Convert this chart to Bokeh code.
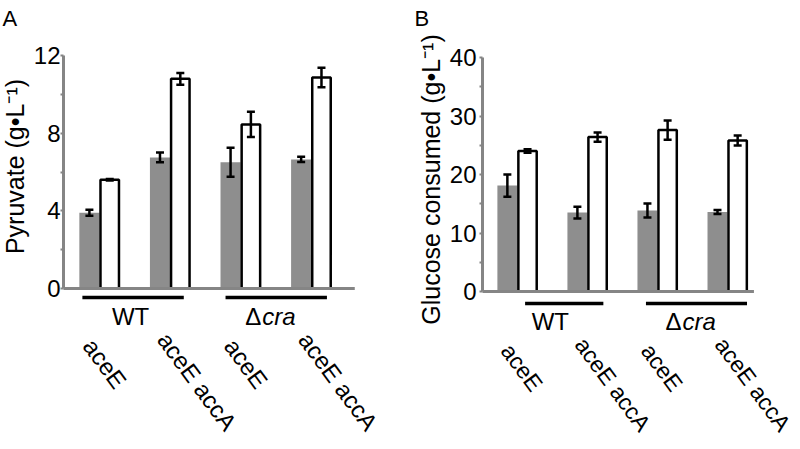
from bokeh.plotting import figure
from bokeh.models import ColumnDataSource, Range1d, FixedTicker, Whisker, TeeHead
from bokeh.layouts import row
from bokeh.transform import dodge
from bokeh.core.properties import value
from bokeh.embed import file_html
from bokeh.resources import INLINE

# ---------------- data ----------------
strains = ["aceE", "aceE accA", "aceE", "aceE accA"]
backgrounds = ["WT", "cra"]          # second one is shown as Δ + italic "cra"

pyr_gray = [3.9, 6.75, 6.5, 6.65]
pyr_gray_err = [0.15, 0.25, 0.75, 0.14]
pyr_white = [5.6, 10.8, 8.45, 10.87]
pyr_white_err = [0.04, 0.3, 0.65, 0.5]

glc_gray = [18.1, 13.5, 13.85, 13.6]
glc_gray_err = [1.9, 1.0, 1.2, 0.35]
glc_white = [24.0, 26.4, 27.6, 25.8]
glc_white_err = [0.3, 0.8, 1.65, 0.85]

pyr_ticks = [0, 4, 8, 12]
pyr_minor = [2, 6, 10]
glc_ticks = [0, 10, 20, 30, 40]
glc_minor = [5, 15, 25, 35]

FONT = "Liberation Sans"
GRAY = "#8e8e8e"
AXIS_GRAY = "#858585"
FS = "24px"
H = 449

GRAY_OFF, GRAY_W = -0.14, 0.285
WHITE_OFF, WHITE_W = 0.148, 0.262


def title_strip(letter, ylabel, width, letter_x, yl_x, yl_y):
    """Narrow strip holding the panel letter and the rotated y-axis title."""
    s = figure(width=width, height=H, output_backend="svg", toolbar_location=None,
               x_axis_type=None, y_axis_type=None,
               x_range=Range1d(0, width), y_range=Range1d(0, H),
               min_border=0, min_border_left=0, min_border_right=0,
               min_border_top=0, min_border_bottom=0)
    s.outline_line_color = None
    s.grid.visible = False
    s.text(x=[letter_x], y=[H - 18], text=[letter], text_font=value(FONT),
           text_font_size="22px", text_align="left", text_baseline="alphabetic",
           text_color="black")
    s.text(x=[yl_x], y=[H - yl_y], text=[ylabel], angle=90, angle_units="deg",
           text_font=value(FONT), text_font_size="25px", text_align="center",
           text_baseline="middle", text_color="black")
    return s


def make_panel(gray, gray_err, white, white_err, ticks, minor, g):
    ymax = ticks[-1]
    ypx = (g["zero"] - g["top"]) / ymax
    width = g["fig_right"] - g["fig_left"]

    def dx(px):
        return (px - g["g0"]) / g["gpx"]

    def dy(py):
        return (g["zero"] - py) / ypx

    p = figure(width=width, height=H, output_backend="svg", toolbar_location=None,
               x_axis_type=None,
               x_range=Range1d(dx(g["frame_left"]), dx(g["fig_right"])),
               y_range=Range1d(dy(H), dy(0)),
               min_border_left=g["frame_left"] - g["fig_left"], min_border_right=0,
               min_border_top=0, min_border_bottom=0)
    p.outline_line_color = None
    p.xgrid.visible = False
    p.ygrid.visible = False

    ax = p.yaxis[0]
    ax.bounds = (0, ymax)
    ax.ticker = FixedTicker(ticks=ticks, minor_ticks=minor)
    ax.axis_line_color = AXIS_GRAY
    ax.axis_line_width = 3
    ax.major_tick_line_color = AXIS_GRAY
    ax.major_tick_line_width = 2
    ax.major_tick_out = 3
    ax.major_tick_in = 0
    ax.minor_tick_line_color = AXIS_GRAY
    ax.minor_tick_line_width = 2
    ax.minor_tick_out = 3
    ax.minor_tick_in = 0
    ax.major_label_text_font = FONT
    ax.major_label_text_font_size = FS
    ax.major_label_text_color = "black"
    ax.major_label_standoff = g["standoff"]

    pos = list(range(len(strains)))
    # long labels sit a little higher/right than short ones
    longness = [(len(s) - 4) / 5 for s in strains]
    src = ColumnDataSource(dict(
        pos=pos, gray=gray, white=white,
        g_up=[v + e for v, e in zip(gray, gray_err)],
        g_lo=[v - e for v, e in zip(gray, gray_err)],
        w_up=[v + e for v, e in zip(white, white_err)],
        w_lo=[v - e for v, e in zip(white, white_err)],
        lab_x=[i + (g["lab_off"] + 3.8 * k) / g["gpx"] for i, k in zip(pos, longness)],
        lab_y=[dy(g["lab_y"] - 6.2 * k) for k in longness],
        strain=strains,
    ))

    p.vbar(x=dodge("pos", GRAY_OFF), top="gray", bottom=0, width=GRAY_W,
           fill_color=GRAY, line_color=None, source=src)
    p.vbar(x=dodge("pos", WHITE_OFF), top="white", bottom=0, width=WHITE_W,
           fill_color="white", line_color="black", line_width=2.5, source=src)

    for base_off, up, lo in [(GRAY_OFF, "g_up", "g_lo"), (WHITE_OFF, "w_up", "w_lo")]:
        w = Whisker(source=src, base=dodge("pos", base_off), upper=up, lower=lo,
                    dimension="height", line_color="black", line_width=2.5,
                    upper_head=TeeHead(size=8, line_color="black", line_width=2.5),
                    lower_head=TeeHead(size=8, line_color="black", line_width=2.5),
                    level="overlay")
        p.add_layout(w)

    # baseline (x axis line)
    p.segment(x0=dx(g["base_l"]), y0=0, x1=dx(g["base_r"]), y1=0,
              line_color=AXIS_GRAY, line_width=3)

    # group underlines
    p.segment(x0=[dx(a) for a, b in g["under"]], x1=[dx(b) for a, b in g["under"]],
              y0=dy(g["under_y"]), y1=dy(g["under_y"]),
              line_color="black", line_width=3.5)

    # group labels
    p.text(x=[dx(g["wt_x"])], y=[dy(g["grp_y"])], text=[backgrounds[0]],
           text_font=value(FONT), text_font_size=FS, text_align="center",
           text_baseline="middle", text_color="black")
    p.text(x=[dx(g["cra_x"])], y=[dy(g["grp_y"])], text=["Δ"],
           text_font=value(FONT), text_font_size=FS, text_align="right",
           text_baseline="middle", text_color="black")
    p.text(x=[dx(g["cra_x"] + 1)], y=[dy(g["grp_y"])], text=[backgrounds[1]],
           text_font=value(FONT), text_font_size=FS, text_font_style=value("italic"),
           text_align="left", text_baseline="middle", text_color="black")

    # rotated strain labels
    p.text(x="lab_x", y="lab_y", text="strain", source=src, angle=-53.5, angle_units="deg",
           text_font=value(FONT), text_font_size=g["lab_fs"],
           text_align="left", text_baseline="middle", text_color="black")
    return p


geomA = dict(fig_left=30, fig_right=400, frame_left=61, g0=97, gpx=71.0, zero=288, top=55,
             base_l=58, base_r=354, under=[(80, 182), (224, 326)], under_y=297,
             wt_x=128.5, cra_x=260, grp_y=316, lab_off=-10.7, lab_y=341, standoff=0,
             lab_fs="24px")
geomB = dict(fig_left=446, fig_right=800, frame_left=479, g0=514, gpx=70.7, zero=291, top=57,
             base_l=477, base_r=753, under=[(522, 601), (644, 746)], under_y=303,
             wt_x=547.5, cra_x=680, grp_y=321, lab_off=-11, lab_y=346, standoff=3,
             lab_fs="23px")

sA = title_strip("A", "Pyruvate (g•L⁻¹)", 30, 2, 14, 166)
pA = make_panel(pyr_gray, pyr_gray_err, pyr_white, pyr_white_err, pyr_ticks, pyr_minor, geomA)
sB = title_strip("B", "Glucose consumed (g•L⁻¹)", 46, 14, 30.5, 179)
pB = make_panel(glc_gray, glc_gray_err, glc_white, glc_white_err, glc_ticks, glc_minor, geomB)

layout = row(sA, pA, sB, pB)
open("out.html", "w").write(file_html(layout, INLINE))
